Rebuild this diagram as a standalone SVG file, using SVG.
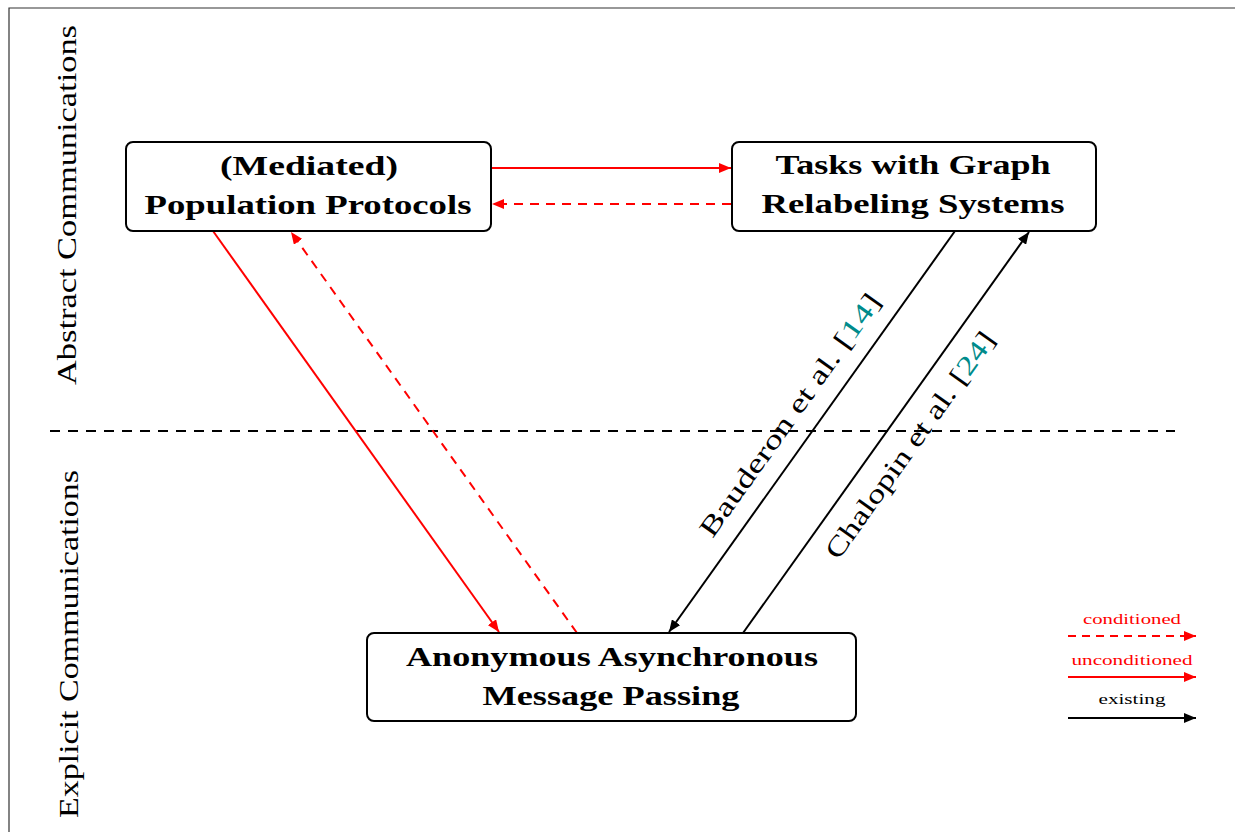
<svg xmlns="http://www.w3.org/2000/svg" width="1235" height="832" viewBox="0 0 1235 832">
<style>
.box{fill:#fff;stroke:#000;stroke-width:2}
.bt{font-family:"Liberation Serif","DejaVu Serif",serif;font-weight:bold;font-size:28px;text-anchor:middle;fill:#000}
.lt{font-family:"Liberation Serif","DejaVu Serif",serif;font-size:27px;text-anchor:middle;fill:#000}
.lg{font-family:"Liberation Serif","DejaVu Serif",serif;font-size:14px;text-anchor:middle}
.red{stroke:#f00;stroke-width:2;fill:none}
.blk{stroke:#000;stroke-width:2;fill:none}
.dash{stroke-dasharray:9,7}
</style>
<defs>
<marker id="ar" viewBox="0 0 12 10" refX="12" refY="5" markerWidth="12" markerHeight="10" markerUnits="userSpaceOnUse" orient="auto"><path d="M0,0 L12,5 L0,10 Z" fill="#f00"/></marker>
<marker id="ab" viewBox="0 0 12 10" refX="12" refY="5" markerWidth="12" markerHeight="10" markerUnits="userSpaceOnUse" orient="auto"><path d="M0,0 L12,5 L0,10 Z" fill="#000"/></marker>
</defs>
<rect width="1235" height="832" fill="#fff"/>
<path d="M9,832 V8 H1235" fill="none" stroke="#333" stroke-width="1.2"/>
<g id="side-labels">
<text class="lt" transform="translate(76,205) rotate(-90)" textLength="360" lengthAdjust="spacingAndGlyphs">Abstract Communications</text>
<text class="lt" transform="translate(78,644) rotate(-90)" textLength="348" lengthAdjust="spacingAndGlyphs">Explicit Communications</text>
</g>
<line x1="50" y1="431" x2="1175" y2="431" stroke="#000" stroke-width="2" stroke-dasharray="10,8"/>
<g id="connectors">
<line class="red" x1="491" y1="168" x2="731" y2="168" marker-end="url(#ar)"/>
<line class="red dash" x1="731" y1="204" x2="492" y2="204" marker-end="url(#ar)"/>
<line class="red" x1="213" y1="231" x2="499" y2="632" marker-end="url(#ar)"/>
<line class="red dash" x1="577" y1="633" x2="291" y2="232" marker-end="url(#ar)"/>
<line class="blk" x1="955" y1="231" x2="669" y2="632" marker-end="url(#ab)"/>
<line class="blk" x1="743" y1="633" x2="1029" y2="232" marker-end="url(#ab)"/>
<text class="lt" transform="translate(790,415) rotate(-54.5)" y="9" textLength="292" lengthAdjust="spacingAndGlyphs">Bauderon et al. [<tspan fill="#008b8b">14</tspan>]</text>
<text class="lt" transform="translate(910,445) rotate(-54.5)" y="9" textLength="272" lengthAdjust="spacingAndGlyphs">Chalopin et al. [<tspan fill="#008b8b">24</tspan>]</text>
</g>
<g id="node-pp">
<rect class="box" x="126" y="142" width="365" height="89" rx="7"/>
<text class="bt" x="309" y="175" textLength="178" lengthAdjust="spacingAndGlyphs">(Mediated)</text>
<text class="bt" x="308" y="214" textLength="327" lengthAdjust="spacingAndGlyphs">Population Protocols</text>
</g>
<g id="node-grs">
<rect class="box" x="732" y="142" width="364" height="89" rx="7"/>
<text class="bt" x="913" y="174" textLength="275" lengthAdjust="spacingAndGlyphs">Tasks with Graph</text>
<text class="bt" x="913" y="213" textLength="303" lengthAdjust="spacingAndGlyphs">Relabeling Systems</text>
</g>
<g id="node-amp">
<rect class="box" x="367" y="633" width="489" height="88" rx="7"/>
<text class="bt" x="612" y="666" textLength="412" lengthAdjust="spacingAndGlyphs">Anonymous Asynchronous</text>
<text class="bt" x="611" y="705" textLength="257" lengthAdjust="spacingAndGlyphs">Message Passing</text>
</g>
<g id="legend">
<text class="lg" x="1132" y="624" fill="#f00" textLength="98" lengthAdjust="spacingAndGlyphs">conditioned</text>
<line class="red" x1="1068" y1="636" x2="1196" y2="636" stroke-dasharray="8,6" marker-end="url(#ar)"/>
<text class="lg" x="1132" y="665" fill="#f00" textLength="121" lengthAdjust="spacingAndGlyphs">unconditioned</text>
<line class="red" x1="1068" y1="677" x2="1196" y2="677" marker-end="url(#ar)"/>
<text class="lg" x="1132" y="704" fill="#000" textLength="67" lengthAdjust="spacingAndGlyphs">existing</text>
<line class="blk" x1="1068" y1="718" x2="1196" y2="718" marker-end="url(#ab)"/>
</g>
</svg>
